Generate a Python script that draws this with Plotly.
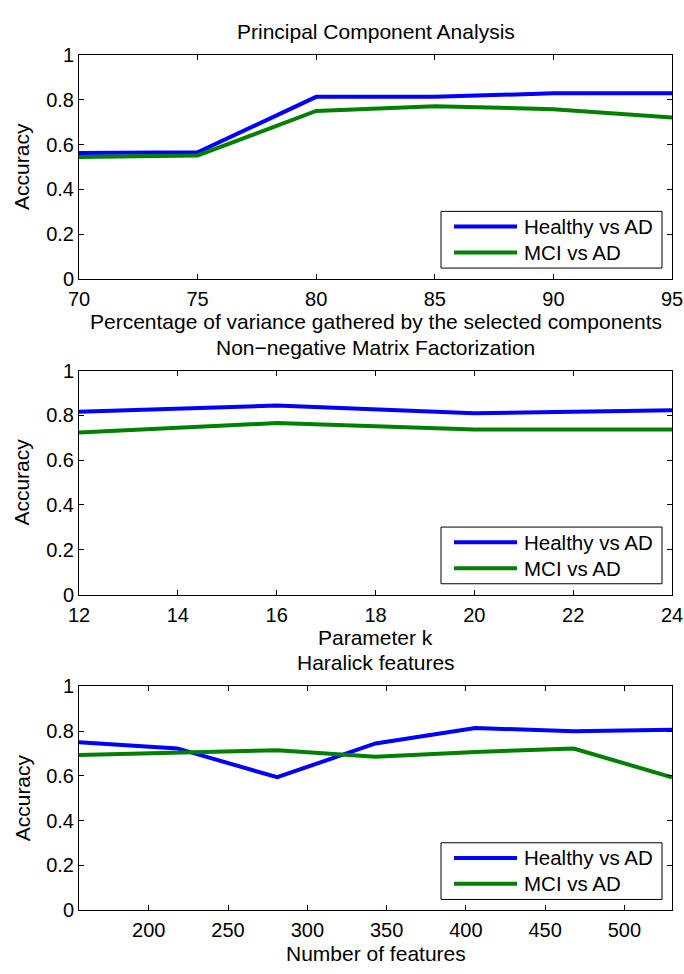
import plotly.graph_objects as go

# ---- data ----
pca_x = [70, 75, 80, 85, 90, 95]
pca_healthy = [0.562, 0.565, 0.813, 0.813, 0.829, 0.829]
pca_mci = [0.544, 0.551, 0.750, 0.771, 0.758, 0.721]

nmf_x = [12, 16, 20, 24]
nmf_healthy = [0.816, 0.844, 0.810, 0.823]
nmf_mci = [0.724, 0.766, 0.737, 0.737]

har_x = [156, 218, 281, 343, 406, 468, 530]
har_healthy = [0.750, 0.723, 0.594, 0.745, 0.814, 0.800, 0.806]
har_mci = [0.694, 0.703, 0.715, 0.686, 0.707, 0.722, 0.594]

titles = ["Principal Component Analysis", "Non\u2212negative Matrix Factorization", "Haralick features"]
xtitles = ["Percentage of variance gathered by the selected components", "Parameter k", "Number of features"]
ylabel = "Accuracy"
names = ["Healthy vs AD", "MCI vs AD"]
colors = ["#0000FF", "#008000"]

W, H = 684, 974
L, R = 79, 12
PW = W - L - R
FONT = "Liberation Sans, Arial, Helvetica, sans-serif"
FS_T = 21
FS_TICK = 20
FS_LEG = 20.5
LW = 4

def py(p):
    return 1 - p / H

def px(p):
    return (p - L) / PW

panels = [
    (pca_x, pca_healthy, pca_mci, [70, 95], 5, 45, 274),
    (nmf_x, nmf_healthy, nmf_mci, [12, 24], 2, 368, 597),
    (har_x, har_healthy, har_mci, [156, 530], 50, 691, 920),
]

fig = go.Figure()
annotations = []
shapes = []
for i, (xs, h, m, xr, dt, top, bot) in enumerate(panels):
    k = "" if i == 0 else str(i + 1)
    for name, ys, c in zip(names, [h, m], colors):
        fig.add_trace(go.Scatter(x=xs, y=ys, mode="lines", name=name,
                                 line=dict(color=c, width=LW),
                                 xaxis="x" + k, yaxis="y" + k, showlegend=False))
    ax = dict(range=xr, dtick=dt, tick0=0, showgrid=False, zeroline=False,
              showline=True, linecolor="black", linewidth=1, mirror="ticks",
              ticks="inside", ticklen=5, tickcolor="black", ticklabelstandoff=2,
              tickfont=dict(family=FONT, size=FS_TICK, color="black"),
              anchor="y" + k, domain=[0, 1])
    ay = dict(range=[0, 1], dtick=0.2, showgrid=False, zeroline=False,
              showline=True, linecolor="black", linewidth=1, mirror="ticks",
              ticks="inside", ticklen=5, tickcolor="black",
              tickfont=dict(family=FONT, size=FS_TICK, color="black"),
              anchor="x" + k, domain=[py(bot), py(top)])
    fig.update_layout(**{"xaxis" + k: ax, "yaxis" + k: ay})

    # legend box (drawn in paper space, like the original figure's legend)
    shapes.append(dict(type="rect", xref="paper", yref="paper", layer="above",
                       x0=px(441), x1=px(662), y0=py(top + 160), y1=py(top + 218),
                       line=dict(color="black", width=1), fillcolor="white"))
    for j, (name, c) in enumerate(zip(names, colors)):
        yy = top + 175.5 + 26.5 * j
        shapes.append(dict(type="line", xref="paper", yref="paper", layer="above",
                           x0=px(454), x1=px(517), y0=py(yy), y1=py(yy),
                           line=dict(color=c, width=LW)))
        annotations.append(dict(text=name, x=px(522), y=py(yy), xref="paper", yref="paper",
                                showarrow=False, xanchor="left", yanchor="middle",
                                font=dict(family=FONT, size=FS_LEG, color="black")))

    annotations.append(dict(text=titles[i], x=0.5, y=py(top - 24), xref="paper", yref="paper",
                            showarrow=False, xanchor="center", yanchor="middle",
                            font=dict(family=FONT, size=FS_T, color="black")))
    annotations.append(dict(text=xtitles[i], x=0.5, y=py(bot + 44), xref="paper", yref="paper",
                            showarrow=False, xanchor="center", yanchor="middle",
                            font=dict(family=FONT, size=FS_T, color="black")))
    annotations.append(dict(text=ylabel, x=px(22), y=py((top + bot) / 2), xref="paper", yref="paper",
                            showarrow=False, xanchor="center", yanchor="middle", textangle=-90,
                            font=dict(family=FONT, size=FS_T, color="black")))

fig.update_layout(width=W, height=H, margin=dict(l=L, r=R, t=0, b=0),
                  paper_bgcolor="white", plot_bgcolor="white",
                  showlegend=False, annotations=annotations, shapes=shapes)

fig.write_html("out.html", config={"displayModeBar": False},
               post_script="document.body.style.margin='0';document.body.style.overflow='hidden';")
